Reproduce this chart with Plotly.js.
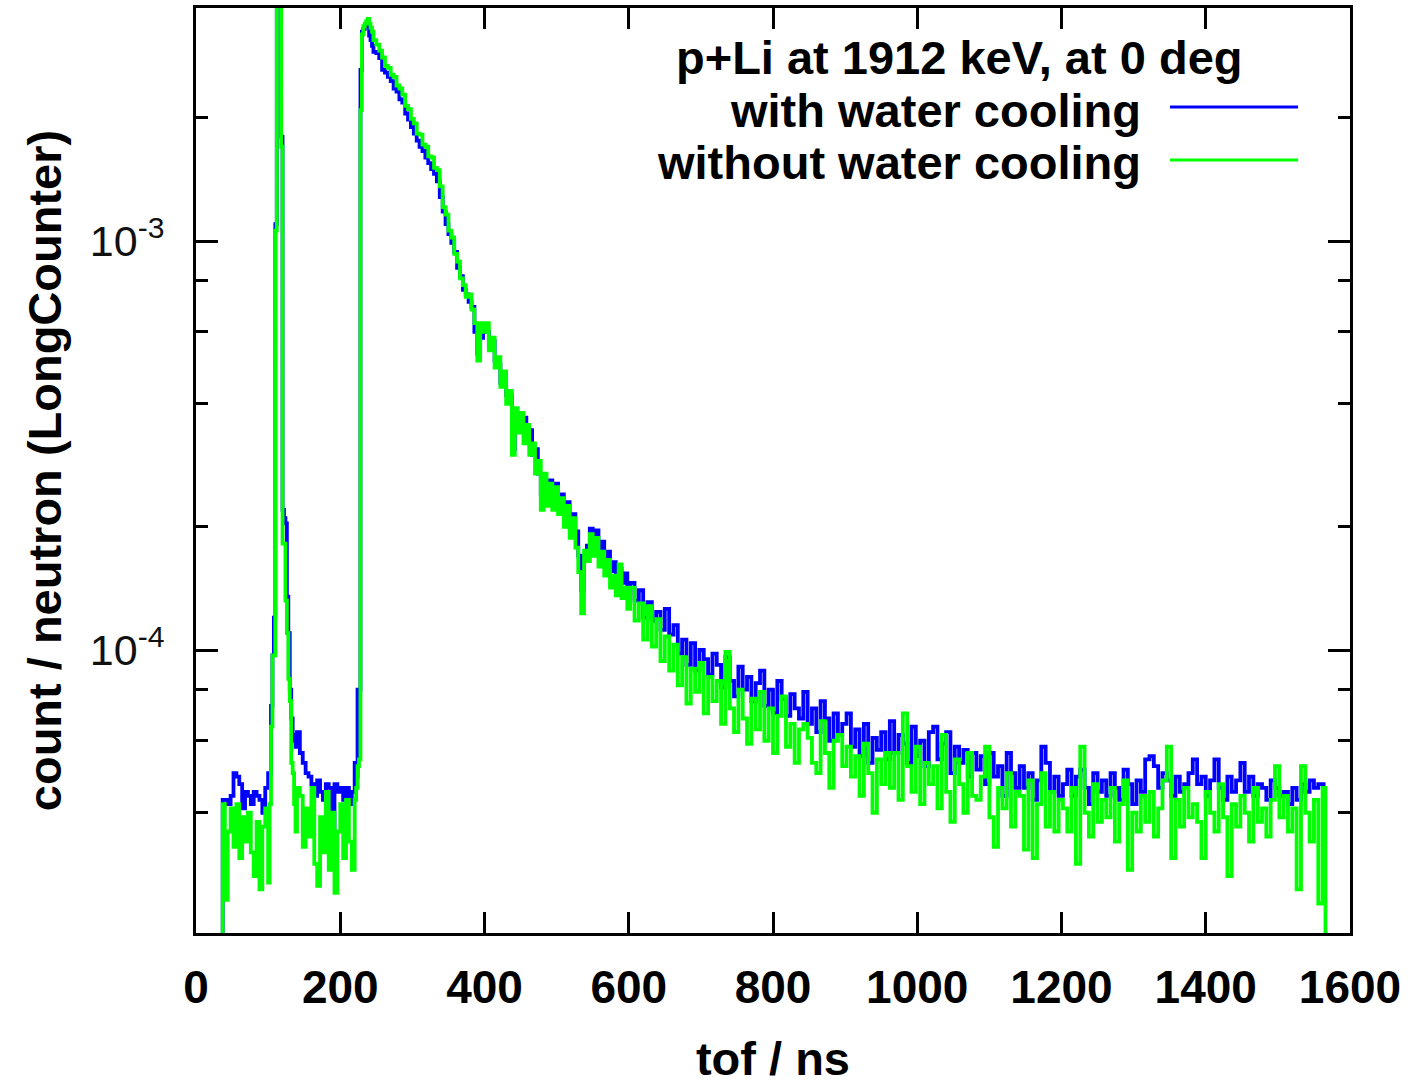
<!DOCTYPE html>
<html>
<head>
<meta charset="utf-8">
<script src="https://cdn.plot.ly/plotly-3.0.1.min.js"></script>
<style>html,body{margin:0;padding:0;background:#fff;}#chart{width:1417px;height:1085px;}</style>
</head>
<body>
<div id="chart"></div>
<script>
// time of flight bin starts (ns)
const tof = [
36,37,40,44,48,52,56,60,64,68,72,76,80,84,88,92,96,100,
102,104,106,108,110,112,114,116,118,120,122,124,126,128,130,132,134,136,138,
140,144,148,152,156,160,164,168,172,176,180,184,188,192,196,200,204,208,212,216,220,
222,224,226,228,230,232,234,236,238,240,242,244,246,
250,254,258,262,266,270,274,278,282,286,290,294,298,302,306,310,314,318,322,326,330,334,338,342,346,350,
354,358,362,366,370,374,378,382,386,390,394,398,402,406,410,414,418,422,426,430,434,438,442,446,450,454,
458,462,466,470,474,478,482,486,490,494,498,502,506,510,514,518,522,526,530,534,538,542,546,550,554,558,
562,566,570,574,578,582,586,590,594,598,
602,608,614,620,626,632,638,644,650,656,662,668,674,680,686,692,698,704,710,716,
722,728,734,740,746,752,758,764,770,776,782,788,794,800,806,812,818,824,830,836,
842,848,854,860,866,872,878,884,890,896,902,908,914,920,926,932,938,944,950,956,
962,968,974,980,986,992,998,1004,1010,1016,1022,1028,1034,1040,1046,1052,1058,1064,1070,1076,
1082,1088,1094,1100,1106,1112,1118,1124,1130,1136,1142,1148,1154,1160,1166,1172,1178,1184,1190,1196,
1202,1208,1214,1220,1226,1232,1238,1244,1250,1256,1262,1268,1274,1280,1286,1292,1298,1304,1310,1316,
1322,1328,1334,1340,1346,1352,1358,1364,1370,1376,1382,1388,1394,1400,1406,1412,1418,1424,1430,1436,
1442,1448,1454,1460,1466,1472,1478,1484,1490,1496,1502,1508,1514,1520,1526,1532,1538,1544,1550,1556,
1562,1566
];

// count / neutron, in units of 1e-5 — with water cooling (blue)
const withCoolingE5 = [
1.2,4.3,4.3,4.2,4.4,5.0,4.9,4.7,4.1,4.5,4.4,4.2,4.5,4.4,4.3,4.0,4.6,5.0,
5.0,7.3,9.7,12,110,900,1500,620,180,22,21,20.4,13.5,11,8,6.8,6.2,6.0,5.8,
6.3,5.6,5.3,5.0,4.9,4.7,4.4,4.8,4.5,4.3,4.7,4.6,3.3,4.7,4.5,4.6,4.3,4.6,4.2,4.5,5.3,
4.9,8.0,8.0,262,325,330,335,338,340,318,310,300,290,
288,280,262,258,252,246,236,232,222,218,205,198,190,183,176,170,166,160,155,150,146,140,128,118,110,104,
99,94,86,82,76,74,71,69,60,53,58,62,60,55,57,51,50,45,47,42,42,31,37,38,35,37,
33,34.5,30,31,27,24,25.5,24,26,23.5,25.5,22.5,24,21.5,23,20,21.5,19.5,17,14,16.5,18,19.8,18.2,19.6,17.2,
18.4,16.2,17.4,15.6,16.4,14.8,15.8,14.6,15.4,13.8,
14.6,13.2,14.0,12.0,13.1,11.8,12.4,11.2,12.6,10.9,11.5,9.8,10.6,9.2,10.4,8.9,10.0,9.5,8.7,9.8,
9.2,8.1,9.6,8.4,7.7,9.1,8.0,8.6,7.5,8.3,8.9,7.3,8.0,7.0,8.4,7.6,6.9,7.8,7.2,6.8,
7.9,6.6,7.2,6.3,7.5,6.8,6.0,7.0,6.2,6.6,7.0,5.8,6.4,5.5,6.6,5.3,6.1,5.7,6.3,5.4,
6.7,5.6,6.2,5.9,5.3,6.5,5.5,6.0,5.2,6.3,6.5,5.4,5.9,6.3,5.0,5.8,5.3,5.7,4.9,5.6,
5.1,5.5,4.7,5.6,4.9,5.2,4.4,5.6,5.0,4.6,5.2,4.6,5.0,4.3,4.8,5.8,5.3,4.5,4.9,4.4,
4.7,5.1,4.4,4.9,5.1,4.6,4.2,5.0,4.5,4.8,4.4,5.0,4.6,4.3,5.1,4.7,4.2,4.8,4.5,5.4,
5.5,5.2,4.6,5.0,4.8,4.4,4.9,4.5,4.7,5.0,5.4,4.7,4.9,4.4,4.8,5.4,4.6,4.3,4.9,4.5,
4.8,5.3,4.5,4.9,4.4,4.7,4.6,4.3,4.8,4.6,4.4,4.5,4.2,4.6,4.3,4.7,4.5,4.8,4.6,4.7,
4.7,4.7
];

// count / neutron, in units of 1e-5 — without water cooling (green)
const withoutCoolingE5 = [
1.2,4.2,2.45,3.6,4.1,3.3,4.2,3.1,3.9,3.4,4.0,3.2,2.8,3.8,2.6,3.7,4.1,2.7,
4.2,6.5,9.7,9.7,106,900,1500,600,170,18.2,18.2,13.2,11,8.5,7.5,5.3,5.0,4.2,3.6,
4.6,4.4,3.3,4.1,3.5,4.6,3.0,2.65,3.9,3.2,4.5,2.9,4.0,2.55,3.6,4.2,3.1,4.3,3.4,2.9,4.3,
4.6,5.2,5.4,209,320,335,340,345,349,340,332,325,310,
302,292,281,268,265,255,252,240,236,228,214,210,199,194,183,182,172,170,161,160,151,149,136,121,116,106,
102,93,89,81,78,73,74,68,63,51,63,60,63,54,58,49,52,44,48,40,43,30,39,34,38,32,
35.5,30,32,27,29,22,27,22.5,25.5,22,25,21.5,23.5,20,22.5,18.8,21,17.8,15.5,12.3,17.5,16.5,19.2,17,18.8,16,
17.4,15.2,16.6,14.2,15.2,13.6,16.2,13.4,14.2,12.6,
14.2,11.8,13.0,10.6,12.8,10.2,11.9,9.4,10.8,8.9,10.3,8.2,9.6,7.4,9.0,7.9,9.3,7.0,8.6,7.5,
8.4,6.6,9.9,7.2,6.3,8.0,6.8,5.9,7.6,6.4,7.9,6.0,7.2,5.6,6.9,7.7,5.8,6.6,5.3,6.4,
6.6,6.1,5.3,5.0,6.7,5.6,4.6,6.0,6.2,5.2,5.8,4.9,5.5,4.4,5.9,5.0,4.0,5.4,4.7,5.6,
4.6,5.6,4.3,7.0,5.2,4.5,5.8,4.2,5.3,4.7,5.2,4.1,6.2,4.5,3.8,5.4,4.7,4.0,5.6,4.4,
4.3,4.9,5.8,3.9,3.3,4.6,4.1,5.0,3.7,4.5,4.4,3.25,4.8,3.1,4.2,5.0,3.7,4.5,3.6,4.3,
4.1,3.6,4.6,3.0,5.8,4.0,3.5,4.7,3.8,4.3,3.9,4.6,3.4,4.2,4.8,2.9,4.0,3.6,4.4,3.8,
4.5,3.5,4.1,4.8,5.8,3.1,4.3,3.7,4.6,3.9,4.2,3.8,3.1,4.5,4.0,3.6,4.7,3.9,2.8,4.2,
3.7,4.4,4.0,3.4,4.6,3.8,4.1,3.5,4.3,5.2,3.9,4.4,3.6,4.1,2.6,5.2,4.0,3.4,4.3,2.4,
4.6,1.2
];

const seriesNames = ['with water cooling', 'without water cooling'];
const seriesColors = ['#0000ff', '#00ff00'];
const chartTitle = 'p+Li at 1912 keV, at 0 deg';
const xTickVals = [0,200,400,600,800,1000,1200,1400,1600];
const yMajorVals = [1e-4, 1e-3];
const yMajorText = ['10<sup>-4</sup>', '10<sup>-3</sup>'];
const yMinorVals = [4e-5,6e-5,8e-5,2e-4,4e-4,6e-4,8e-4,2e-3];

const UNIT = 1e-5;
const yBlue = withCoolingE5.map(v => v * UNIT);
const yGreen = withoutCoolingE5.map(v => v * UNIT);

const FONT = 'Liberation Sans, Arial, Helvetica, sans-serif';

const traces = [
  {x: tof, y: yBlue, type: 'scatter', mode: 'lines', name: seriesNames[0],
   line: {color: seriesColors[0], width: 3.8, shape: 'hv'}},
  {x: tof, y: yGreen, type: 'scatter', mode: 'lines', name: seriesNames[1],
   line: {color: seriesColors[1], width: 3.8, shape: 'hv'}}
];

const legX0 = 0.844, legX1 = 0.955;
const boldFont = {family: FONT, size: 47, color: '#000', weight: 'bold'};
const layout = {
  width: 1417, height: 1085,
  margin: {l: 196, r: 67, t: 8, b: 152},
  paper_bgcolor: '#fff', plot_bgcolor: '#fff',
  showlegend: false,
  font: {family: FONT, color: '#000'},
  xaxis: {
    range: [0, 1600], tickmode: 'array', tickvals: xTickVals,
    ticks: 'inside', ticklen: 21, tickwidth: 3, tickcolor: '#000',
    showline: true, linewidth: 3, linecolor: '#000', mirror: 'allticks',
    showgrid: false, zeroline: false,
    tickfont: {family: FONT, size: 46, color: '#000', weight: 'bold'},
    ticklabelstandoff: 12,
    title: {text: 'tof / ns', font: boldFont, standoff: 40}
  },
  yaxis: {
    type: 'log', range: [-4.6919, -2.4303],
    tickmode: 'array', tickvals: yMajorVals, ticktext: yMajorText,
    ticks: 'inside', ticklen: 22, tickwidth: 3, tickcolor: '#000',
    minor: {tickmode: 'array', tickvals: yMinorVals, ticks: 'inside', ticklen: 12, tickwidth: 3, tickcolor: '#000', showgrid: false},
    showline: true, linewidth: 3, linecolor: '#000', mirror: 'allticks',
    showgrid: false, zeroline: false,
    tickfont: {family: FONT, size: 43, color: '#111'},
    ticklabelstandoff: 20,
    title: {text: 'count / neutron (LongCounter)', font: boldFont, standoff: 14}
  },
  annotations: [
    {xref: 'paper', yref: 'paper', x: 0.6613, y: 0.946, xanchor: 'center', yanchor: 'middle',
     text: chartTitle, showarrow: false, font: boldFont},
    {xref: 'paper', yref: 'paper', x: 0.8207, y: 0.8897, xanchor: 'right', yanchor: 'middle',
     text: seriesNames[0], showarrow: false, font: boldFont},
    {xref: 'paper', yref: 'paper', x: 0.8207, y: 0.8335, xanchor: 'right', yanchor: 'middle',
     text: seriesNames[1], showarrow: false, font: boldFont}
  ],
  shapes: [
    {type: 'line', xref: 'paper', yref: 'paper', x0: legX0, x1: legX1, y0: 0.893, y1: 0.893,
     line: {color: seriesColors[0], width: 3}},
    {type: 'line', xref: 'paper', yref: 'paper', x0: legX0, x1: legX1, y0: 0.8357, y1: 0.8357,
     line: {color: seriesColors[1], width: 3}}
  ]
};

Plotly.newPlot('chart', traces, layout, {displayModeBar: false, staticPlot: true});
</script>
</body>
</html>
